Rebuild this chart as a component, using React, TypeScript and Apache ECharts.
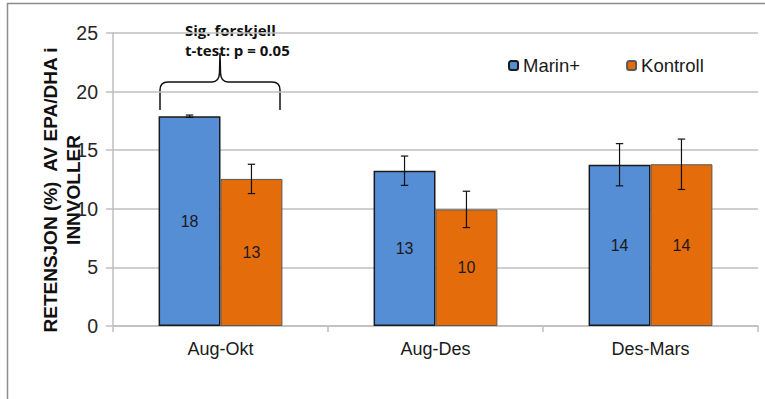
import React, { useEffect, useRef } from "react";
import * as echarts from "echarts";

const categories = ["Aug-Okt", "Aug-Des", "Des-Mars"];
const marinValues = [17.9, 13.25, 13.76];
const marinErrors = [0.1, 1.25, 1.8];
const kontrollValues = [12.55, 9.95, 13.8];
const kontrollErrors = [1.25, 1.55, 2.15];
const yTicks = { min: 0, max: 25, interval: 5 };
const seriesNames = ["Marin+", "Kontroll"];
const yTitle = "RETENSJON (%)  AV EPA/DHA i\nINNVOLLER";
const noteLines = ["Sig. forskjell", "t-test: p = 0.05"];

const BAR_FRAC = 0.288;

echarts.graphic.registerShape(
  "brace",
  echarts.graphic.extendPath(
    "M0 57 L0 37 Q0 29 8 29 L52 29 Q59 29 59.5 20 L60 0 L60.5 20 Q61 29 68 29 L112 29 Q120 29 120 37 L120 57",
    {}
  )
);

export default function App() {
  const ref = useRef<HTMLDivElement>(null);
  useEffect(() => {
    if (!ref.current) return;
    const chart = echarts.init(ref.current, null, { renderer: "svg" });
    const errData: number[][] = [];
    categories.forEach((_, i) => {
      errData.push([i, marinValues[i] - marinErrors[i], marinValues[i] + marinErrors[i], 0]);
      errData.push([i, kontrollValues[i] - kontrollErrors[i], kontrollValues[i] + kontrollErrors[i], 1]);
    });
    const labelCfg = {
      show: true,
      position: "inside",
      fontFamily: "Liberation Sans, Arial",
      fontSize: 16,
      color: "#1a1a1a",
      formatter: (p: any) => String(Math.round(p.value)),
    };
    chart.setOption({
      animation: false,
      grid: { left: 113, right: 7, top: 33, bottom: 73, containLabel: false },
      legend: {
        left: 503,
        top: 51,
        itemWidth: 9,
        itemHeight: 9,
        itemGap: 46,
        textStyle: { fontFamily: "Liberation Sans, Arial", fontSize: 18.5, color: "#1a1a1a" },
        data: seriesNames,
      },
      xAxis: {
        type: "category",
        data: categories,
        axisLine: { show: true, lineStyle: { color: "#bfbfbf", width: 1.5 } },
        axisTick: { show: true, length: 6, interval: 0, lineStyle: { color: "#bfbfbf", width: 1.5 } },
        axisLabel: { fontFamily: "Liberation Sans, Arial", fontSize: 18, color: "#1a1a1a", margin: 14, interval: 0 },
      },
      yAxis: {
        type: "value",
        min: yTicks.min,
        max: yTicks.max,
        interval: yTicks.interval,
        axisLine: { show: true, lineStyle: { color: "#bfbfbf", width: 1.5 } },
        axisTick: { show: true, length: 7, lineStyle: { color: "#bfbfbf", width: 1.5 } },
        splitLine: { show: true, lineStyle: { color: "#bfbfbf", width: 1.5 } },
        axisLabel: { fontFamily: "Liberation Sans, Arial", fontSize: 19.5, color: "#262626", margin: 15 },
      },
      series: [
        {
          name: seriesNames[0],
          type: "bar",
          data: marinValues,
          barWidth: BAR_FRAC * 100 + "%",
          barGap: "0%",
          itemStyle: { color: "#558ED5", borderColor: "#1a1a1a", borderWidth: 1.5 },
          label: labelCfg,
        },
        {
          name: seriesNames[1],
          type: "bar",
          data: kontrollValues,
          barWidth: BAR_FRAC * 100 + "%",
          barGap: "0%",
          itemStyle: { color: "#E46C0A", borderColor: "#595959", borderWidth: 1 },
          label: labelCfg,
        },
        {
          type: "custom",
          z: 10,
          data: errData,
          encode: { x: 0, y: [1, 2] },
          renderItem: (params: any, api: any) => {
            const cat = api.value(0);
            const lo = api.value(1);
            const hi = api.value(2);
            const s = api.value(3);
            const band = api.size([1, 0])[0];
            const bw = band * BAR_FRAC;
            const cx = api.coord([cat, 0])[0] + (s === 0 ? -bw / 2 : bw / 2);
            const yLo = api.coord([cat, lo])[1];
            const yHi = api.coord([cat, hi])[1];
            const cap = 3.7;
            const st = { stroke: "#111", lineWidth: 1.2 };
            return {
              type: "group",
              children: [
                { type: "line", shape: { x1: cx, y1: yLo, x2: cx, y2: yHi }, style: st },
                { type: "line", shape: { x1: cx - cap, y1: yLo, x2: cx + cap, y2: yLo }, style: st },
                { type: "line", shape: { x1: cx - cap, y1: yHi, x2: cx + cap, y2: yHi }, style: st },
              ],
            };
          },
        },
      ],
      graphic: [
        { type: "line", shape: { x1: 7.5, y1: 3, x2: 7.5, y2: 399 }, style: { stroke: "#8c8c8c", lineWidth: 1.5 } },
        { type: "line", shape: { x1: 7, y1: 3.5, x2: 765, y2: 3.5 }, style: { stroke: "#8c8c8c", lineWidth: 1.5 } },
        {
          type: "text",
          x: 62,
          y: 190,
          rotation: Math.PI / 2,
          style: {
            text: yTitle,
            font: "bold 19px 'Liberation Sans', Arial",
            fill: "#111",
            align: "center",
            verticalAlign: "middle",
            lineHeight: 23,
          },
        },
        {
          type: "text",
          x: 185,
          y: 30,
          style: {
            text: noteLines[0],
            font: "bold 15px 'Open Sans'",
            fill: "#111",
            align: "left",
            verticalAlign: "middle",
          },
        },
        {
          type: "text",
          x: 185,
          y: 50,
          style: {
            text: noteLines[1],
            font: "bold 15px 'Open Sans'",
            fill: "#111",
            align: "left",
            verticalAlign: "middle",
          },
        },
        {
          type: "brace",
          x: 160,
          y: 53,
          style: { stroke: "#111", lineWidth: 1.5, fill: null },
        },
      ],
    });
    return () => chart.dispose();
  }, []);
  return (
    <div
      ref={ref}
      style={{ position: "absolute", left: 0, top: 0, width: 765, height: 399, background: "#fff" }}
    />
  );
}
